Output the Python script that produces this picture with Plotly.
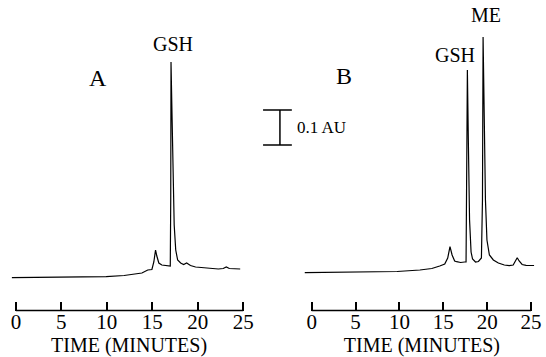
import plotly.graph_objects as go

# ---- data (time in minutes, absorbance in AU relative to start baseline) ----
time_a = [-0.44, 2.6, 5.9, 9.93, 11.9, 13.86, 14.5, 14.96, 15.17, 15.36, 15.5, 15.72,
          16.05, 16.5, 16.8, 16.98, 17.03, 17.06, 17.14, 17.25, 17.41, 17.58, 17.79,
          18.12, 18.45, 18.78, 19.2, 19.76, 21.18, 22.27, 22.8, 23.14, 23.47, 24.67]
abs_a = [-0.002, -0.0014, 0.0, 0.0009, 0.0043, 0.0114, 0.02, 0.0214, 0.0429, 0.0771,
         0.06, 0.04, 0.0343, 0.0329, 0.0314, 0.0314, 0.22, 0.6143, 0.5057, 0.3057,
         0.1486, 0.0771, 0.0486, 0.04, 0.0357, 0.04, 0.0329, 0.0286, 0.0257, 0.0229,
         0.0243, 0.0286, 0.0243, 0.0229]

time_b = [-0.79, 1.81, 6.67, 9.73, 12.33, 13.69, 14.59, 15.16, 15.5, 15.76, 16.0, 16.29,
          16.52, 16.97, 17.42, 17.59, 17.68, 17.74, 17.85, 17.99, 18.16, 18.33, 18.67,
          19.0, 19.34, 19.46, 19.53, 19.66, 19.8, 19.97, 20.25, 20.7, 21.27, 21.95,
          22.51, 22.96, 23.25, 23.42, 23.64, 23.98, 24.43, 25.34]
abs_b = [0.0123, 0.0129, 0.0143, 0.0157, 0.02, 0.0243, 0.0314, 0.0371, 0.0543, 0.0866,
         0.0629, 0.0457, 0.0437, 0.0414, 0.0429, 0.0429, 0.3629, 0.5914, 0.3914, 0.1629,
         0.0714, 0.0514, 0.0429, 0.0443, 0.0543, 0.2200, 0.6857, 0.4514, 0.2200, 0.1057,
         0.0629, 0.0486, 0.04, 0.0343, 0.0323, 0.0343, 0.0457, 0.0551, 0.0457, 0.0357,
         0.0334, 0.0329]

tick_vals = [0, 5, 10, 15, 20, 25]
tick_text = ["0", "5", "10", "15", "20", "25"]
peak_labels_a = [("GSH", 17.25, 0.666)]
peak_labels_b = [("GSH", 16.33, 0.634), ("ME", 19.87, 0.749)]
scale_bar_au = 0.1

W, H = 546, 357
FONT = "Liberation Serif, Times New Roman, serif"
y_bottom_px = 310.5
y_domain_bottom = (H - y_bottom_px) / H
y_range = [(277 - y_bottom_px) / 350, 277 / 350]

fig = go.Figure()
fig.add_trace(go.Scatter(x=time_a, y=abs_a, mode="lines", xaxis="x", yaxis="y",
                         line=dict(color="black", width=1.2), showlegend=False))
fig.add_trace(go.Scatter(x=time_b, y=abs_b, mode="lines", xaxis="x2", yaxis="y",
                         line=dict(color="black", width=1.2), showlegend=False))

common_x = dict(tickvals=tick_vals, ticktext=tick_text, ticks="inside", ticklen=9,
                tickwidth=1.5, tickcolor="black", showline=False, showgrid=False,
                zeroline=False, tickfont=dict(family=FONT, size=21, color="black"),
                ticklabelstandoff=-4,
                title=dict(text="TIME (MINUTES)", font=dict(family=FONT, size=20, color="black"),
                           standoff=0),
                anchor="y", fixedrange=True)

# panel A: 0 min -> px 16, 25 min -> px 245
pa = 9.16
a_left, a_right = 8, 252
fig.update_layout(xaxis=dict(domain=[a_left / W, a_right / W],
                             range=[-(16 - a_left) / pa, 25 + (a_right - 245) / pa], **common_x))
# panel B: 0 min -> px 314, 25 min -> px 535
pb = 8.84
b_left, b_right = 304, 546
fig.update_layout(xaxis2=dict(domain=[b_left / W, b_right / W],
                              range=[-(314 - b_left) / pb, 25 + (b_right - 535) / pb], **common_x))
fig.update_layout(yaxis=dict(domain=[y_domain_bottom, 1], range=y_range, visible=False,
                             fixedrange=True))

# axis baselines from 0 to 25 min
for xr in ("x", "x2"):
    fig.add_shape(type="line", xref=xr, yref="paper", x0=0, x1=25,
                  y0=y_domain_bottom, y1=y_domain_bottom,
                  line=dict(color="black", width=1.5))

# scale bar (0.1 AU)
sb_bottom = (277 - 145) / 350
sb_top = sb_bottom + scale_bar_au
fig.add_shape(type="line", xref="paper", yref="y", x0=282 / W, x1=282 / W,
              y0=sb_bottom, y1=sb_top, line=dict(color="black", width=1.5))
for yy in (sb_bottom, sb_top):
    fig.add_shape(type="line", xref="paper", yref="y", x0=265 / W, x1=294 / W,
                  y0=yy, y1=yy, line=dict(color="black", width=1.5))
fig.add_annotation(xref="paper", yref="y", x=297 / W, y=(sb_bottom + sb_top) / 2,
                   text="0.1 AU", showarrow=False, xanchor="left", yanchor="middle",
                   font=dict(family=FONT, size=17, color="black"))

# panel letters
fig.add_annotation(xref="paper", yref="paper", x=88 / W, y=1 - 63 / H, text="A",
                   showarrow=False, font=dict(family=FONT, size=24, color="black"))
fig.add_annotation(xref="paper", yref="paper", x=347 / W, y=1 - 61 / H, text="B",
                   showarrow=False, font=dict(family=FONT, size=24, color="black"))

# peak labels
for txt, xx, yy in peak_labels_a:
    fig.add_annotation(xref="x", yref="y", x=xx, y=yy, text=txt, showarrow=False,
                       font=dict(family=FONT, size=20, color="black"))
for txt, xx, yy in peak_labels_b:
    fig.add_annotation(xref="x2", yref="y", x=xx, y=yy, text=txt, showarrow=False,
                       font=dict(family=FONT, size=20, color="black"))

fig.update_layout(width=W, height=H, margin=dict(l=0, r=0, t=0, b=0),
                  paper_bgcolor="white", plot_bgcolor="white", showlegend=False)
fig.write_html("out.html", config={"displayModeBar": False},
               post_script="document.body.style.margin='0';document.body.style.overflow='hidden';")
